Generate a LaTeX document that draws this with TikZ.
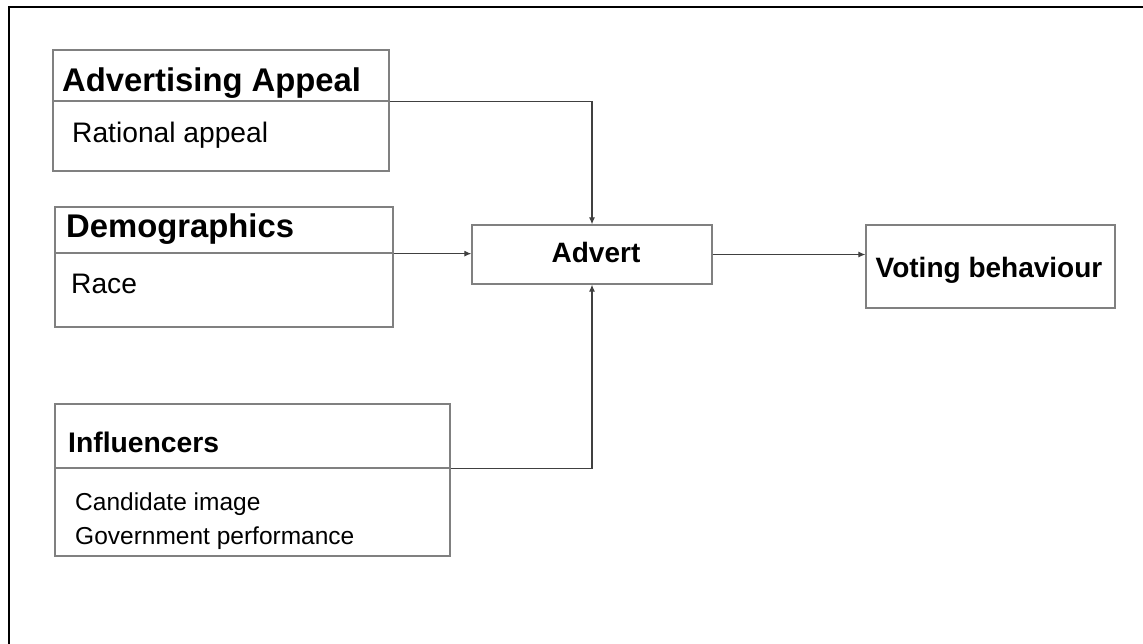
\documentclass[tikz,border=0pt]{standalone}
\usepackage{fontspec}
\setmainfont{Liberation Sans}
\usetikzlibrary{positioning,arrows.meta}

\begin{document}
\begin{tikzpicture}[
        x=1pt, y=-1pt,
        box/.style={draw=black!50, line width=1.3pt, inner sep=0pt},
        heading/.style={font=\fontsize{32.8}{38}\selectfont\bfseries, anchor=base west, inner sep=0pt},
        subheading/.style={font=\fontsize{28.3}{34}\selectfont\bfseries, anchor=base west, inner sep=0pt},
        item/.style={font=\fontsize{28.2}{34}\selectfont, anchor=base west, inner sep=0pt},
        smallitem/.style={font=\fontsize{24.5}{30}\selectfont, anchor=base west, inner sep=0pt},
        boxtext/.style={font=\fontsize{28}{34}\selectfont\bfseries, anchor=base, inner sep=0pt},
        link/.style={draw=black!75, line width=1.1pt, -{Latex[length=7pt,width=6pt]}}
    ]
        \useasboundingbox (0,0) rectangle (1143,643);

        % Outer frame
        \draw[line width=2.2pt] (9,645) |- (1145,7);

        % Factor boxes
        \node[box, minimum width=336pt, minimum height=51pt] (appealhead) at (221,75.5) {};
        \node[box, minimum width=336pt, minimum height=70pt] (appealbody) at (221,136) {};
        \node[box, minimum width=338pt, minimum height=46pt] (demohead) at (224,230) {};
        \node[box, minimum width=338pt, minimum height=74pt] (demobody) at (224,290) {};
        \node[box, minimum width=395pt, minimum height=64pt] (inflhead) at (252.5,436) {};
        \node[box, minimum width=395pt, minimum height=88pt] (inflbody) at (252.5,512) {};

        % Texts of the factor boxes
        \node[heading] (appealtitle) at (62,91) {Advertising Appeal};
        \node[item] (rational) at (72,142) {Rational appeal};
        \node[heading] (demotitle) at (66,237) {Demographics};
        \node[item] (race) at (71,293) {Race};
        \node[subheading] (infltitle) at (68,452) {Influencers};
        \node[smallitem] (candidate) at (75,510) {Candidate image};
        \node[smallitem] (government) at (75,544) {Government performance};

        % Advert and outcome
        \node[box, minimum width=240pt, minimum height=59pt] (advert) at (592,254.5) {};
        \node[boxtext] (adverttext) at (596,262) {Advert};
        \node[box, minimum width=249pt, minimum height=83pt] (voting) at (990.5,266.5) {};
        \node[boxtext] (votingtext) at (989,277) {Voting behaviour};

        % Connectors
        \draw[link] (appealhead.south east) -| (advert.north);
        \draw[link] (demohead.south east) -- (demohead.south east -| advert.west);
        \draw[link] (inflhead.south east) -| (advert.south);
        \draw[link] (advert.east) -- (advert.east -| voting.west);
    \end{tikzpicture}
\end{document}
